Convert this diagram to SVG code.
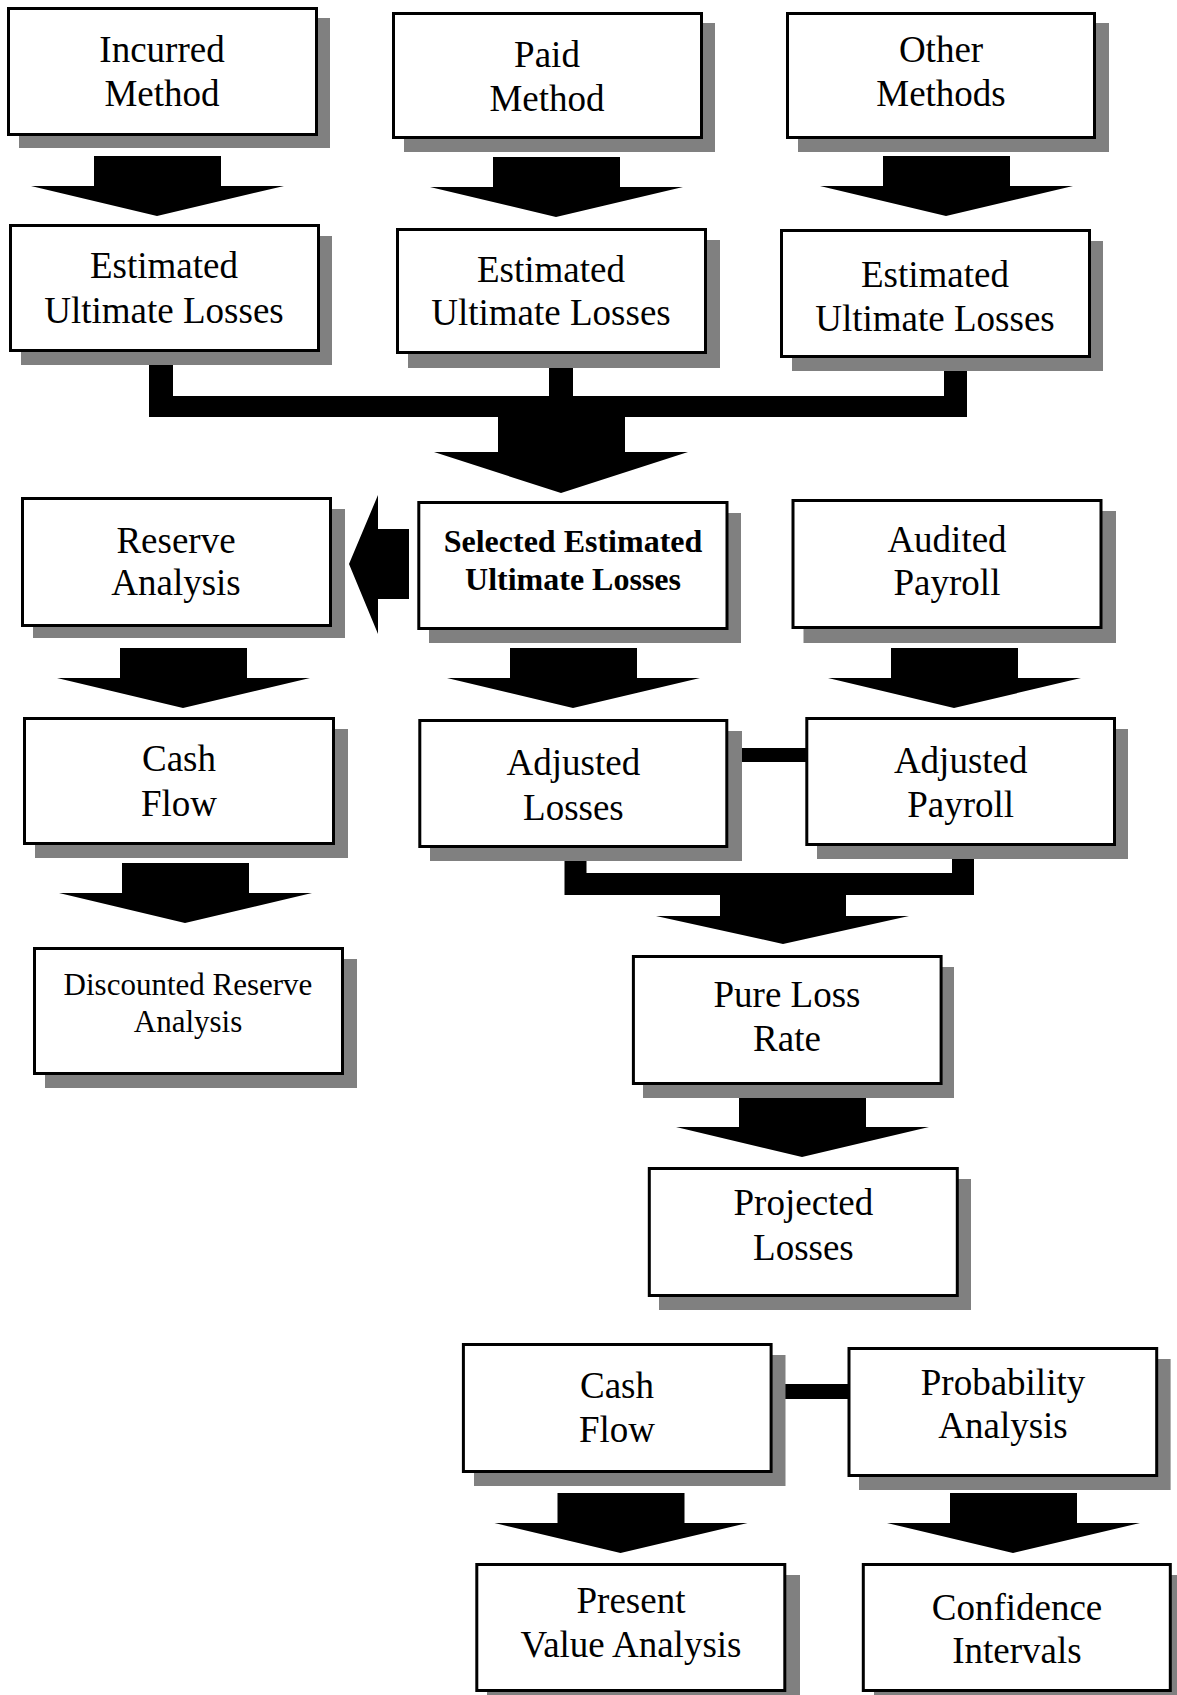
<svg xmlns="http://www.w3.org/2000/svg" xmlns:xlink="http://www.w3.org/1999/xlink" width="1177" height="1695" viewBox="0 0 1177 1695">
<style>
.box{fill:#fff;stroke:#000;stroke-width:3}
.sh{fill:#808080}
.t{font-family:"Liberation Serif","Times New Roman",serif;font-size:37px;text-anchor:middle;fill:#000}
.b{font-weight:bold;font-size:32px}
.s{font-size:31px}
.c{fill:#000}
</style>
<defs>
<path id="dn" d="M-63,-60 H64 V-30 H127 L0,0 L-126,-30 H-63 Z"/>
</defs>
<rect width="1177" height="1695" fill="#fff"/>
<g id="connectors" class="c">
<use xlink:href="#dn" href="#dn" transform="translate(157,216)"/>
<use xlink:href="#dn" href="#dn" transform="translate(556,217)"/>
<use xlink:href="#dn" href="#dn" transform="translate(946,216)"/>
<path d="M149,340 H173 V396 H549 V340 H573 V396 H944 V340 H967 V417 H625 V452 H688 L561,493 L434,452 H498 V417 H149 Z"/>
<path d="M349,564 L378,495 V529 H409 V599 H378 V634 Z"/>
<use xlink:href="#dn" href="#dn" transform="translate(183,708)"/>
<use xlink:href="#dn" href="#dn" transform="translate(185,923)"/>
<use xlink:href="#dn" href="#dn" transform="translate(573,708)"/>
<use xlink:href="#dn" href="#dn" transform="translate(954,708)"/>
<rect x="722" y="748" width="90" height="14"/>
<path d="M564.5,830 H586.5 V873 H952 V830 H974 V895 H846 V916 H909 L783,944 L656,916 H720 V895 H564.5 Z"/>
<use xlink:href="#dn" href="#dn" transform="translate(802,1157)"/>
<rect x="768" y="1384" width="84" height="15"/>
<use xlink:href="#dn" href="#dn" transform="translate(620.5,1553)"/>
<use xlink:href="#dn" href="#dn" transform="translate(1013,1553)"/>
</g>
<g id="incurred"><rect class="sh" x="19" y="18" width="311" height="130"/><rect class="box" x="8.5" y="8.5" width="308" height="126"/><text class="t" x="162" y="62">Incurred</text><text class="t" x="162" y="106">Method</text></g>
<g id="paid"><rect class="sh" x="404" y="23" width="311" height="129"/><rect class="box" x="393.5" y="13.5" width="308" height="124"/><text class="t" x="547" y="67">Paid</text><text class="t" x="547" y="111">Method</text></g>
<g id="other"><rect class="sh" x="798" y="23" width="311" height="129"/><rect class="box" x="787.5" y="13.5" width="307" height="124"/><text class="t" x="941" y="62">Other</text><text class="t" x="941" y="106">Methods</text></g>
<g id="eul1"><rect class="sh" x="21" y="236" width="311" height="129"/><rect class="box" x="10.5" y="225.5" width="308" height="125"/><text class="t" x="164" y="278">Estimated</text><text class="t" x="164" y="323">Ultimate Losses</text></g>
<g id="eul2"><rect class="sh" x="408" y="240" width="312" height="128"/><rect class="box" x="397.5" y="229.5" width="308" height="123"/><text class="t" x="551" y="282">Estimated</text><text class="t" x="551" y="325">Ultimate Losses</text></g>
<g id="eul3"><rect class="sh" x="792" y="241" width="311" height="130"/><rect class="box" x="781.5" y="230.5" width="308" height="126"/><text class="t" x="935" y="287">Estimated</text><text class="t" x="935" y="331">Ultimate Losses</text></g>
<g id="reserve"><rect class="sh" x="33" y="509" width="312" height="129"/><rect class="box" x="22.5" y="498.5" width="308" height="127"/><text class="t" x="176" y="553">Reserve</text><text class="t" x="176" y="595">Analysis</text></g>
<g id="selected"><rect class="sh" x="429" y="513" width="312" height="130"/><rect class="box" x="418.8" y="502.5" width="308.2" height="126"/><text class="t b" x="573" y="552">Selected Estimated</text><text class="t b" x="573" y="590">Ultimate Losses</text></g>
<g id="audited"><rect class="sh" x="803.5" y="511" width="312.5" height="132"/><rect class="box" x="793" y="500.5" width="308" height="127"/><text class="t" x="947" y="552">Audited</text><text class="t" x="947" y="595">Payroll</text></g>
<g id="cashflow1"><rect class="sh" x="35" y="729" width="313" height="129"/><rect class="box" x="24.5" y="718.5" width="309" height="125"/><text class="t" x="179" y="771">Cash</text><text class="t" x="179" y="816">Flow</text></g>
<g id="adjlosses"><rect class="sh" x="430" y="731" width="312" height="130"/><rect class="box" x="419.8" y="720.5" width="307" height="126"/><text class="t" x="573.4" y="775">Adjusted</text><text class="t" x="573.4" y="820">Losses</text></g>
<g id="adjpayroll"><rect class="sh" x="817" y="729" width="311" height="130"/><rect class="box" x="806.8" y="718.5" width="307.7" height="126"/><text class="t" x="960.7" y="773">Adjusted</text><text class="t" x="960.7" y="817">Payroll</text></g>
<g id="discounted"><rect class="sh" x="45" y="959" width="312" height="129"/><rect class="box" x="34.5" y="948.5" width="308" height="125"/><text class="t s" x="188" y="995">Discounted Reserve</text><text class="t s" x="188" y="1032">Analysis</text></g>
<g id="pureloss"><rect class="sh" x="643" y="967" width="311" height="131"/><rect class="box" x="633.4" y="956.5" width="307.7" height="127"/><text class="t" x="787" y="1007">Pure Loss</text><text class="t" x="787" y="1051">Rate</text></g>
<g id="projected"><rect class="sh" x="659" y="1179" width="312" height="131"/><rect class="box" x="649.3" y="1168.5" width="308" height="127"/><text class="t" x="803.4" y="1215">Projected</text><text class="t" x="803.4" y="1260">Losses</text></g>
<g id="cashflow2"><rect class="sh" x="474" y="1355" width="311.5" height="131"/><rect class="box" x="463.4" y="1344.5" width="307.7" height="127"/><text class="t" x="617" y="1398">Cash</text><text class="t" x="617" y="1442">Flow</text></g>
<g id="probability"><rect class="sh" x="859" y="1359" width="311.6" height="131"/><rect class="box" x="849" y="1348.5" width="307.7" height="127"/><text class="t" x="1003" y="1395">Probability</text><text class="t" x="1003" y="1438">Analysis</text></g>
<g id="presentvalue"><rect class="sh" x="487" y="1575" width="313" height="130"/><rect class="box" x="476.8" y="1564.5" width="308" height="126"/><text class="t" x="631" y="1613">Present</text><text class="t" x="631" y="1657">Value Analysis</text></g>
<g id="confidence"><rect class="sh" x="874" y="1575" width="312" height="130"/><rect class="box" x="863.3" y="1564.5" width="307" height="126"/><text class="t" x="1017" y="1620">Confidence</text><text class="t" x="1017" y="1663">Intervals</text></g>
</svg>
